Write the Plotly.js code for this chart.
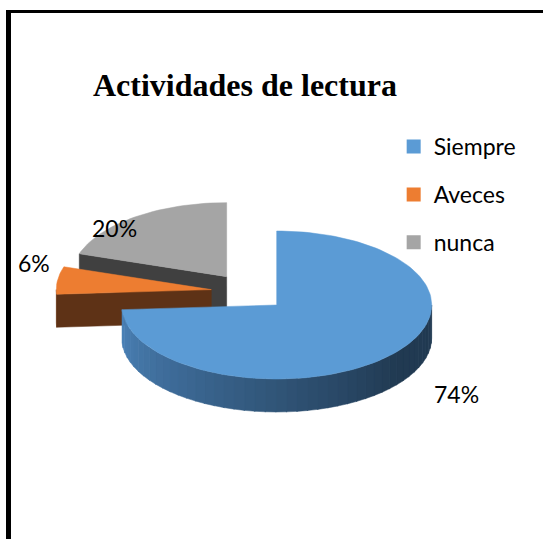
<!DOCTYPE html>
<html>
<head>
<meta charset="utf-8">
<script src="https://cdn.plot.ly/plotly-3.0.1.min.js"></script>
<style>html,body{margin:0;padding:0;background:#fff;}#chart{width:543px;height:539px;}</style>
</head>
<body>
<div id="chart"></div>
<script>
// ---- data ----
var categories = ["Siempre", "Aveces", "nunca"];
var values = [74, 6, 20];
var topColors = ["#5B9BD5", "#ED7D31", "#A5A5A5"];
var faceColors = ["#2E5075", "#5E3216", "#404040"];
var wallLight = ["#4C84BB", "#6A3A1A", "#505050"];
var wallDark = ["#213A52", "#4A2810", "#383838"];

// ---- geometry (drawing constants) ----
var CX = 249, CY = 292, RX = 155, RY = 74, DEPTH = 33, EXPLODE = 38, KY = 0.5;
var TITLE = "Actividades de lectura";

function pt(cx, cy, ang) {
  var r = ang * Math.PI / 180;
  return [cx + RX * Math.sin(r), cy - RY * Math.cos(r)];
}
function arc(cx, cy, a0, a1, dy) {
  var pts = [];
  var n = Math.max(2, Math.ceil(Math.abs(a1 - a0) / 2));
  for (var i = 0; i <= n; i++) {
    var a = a0 + (a1 - a0) * i / n;
    var p = pt(cx, cy, a);
    pts.push([p[0], p[1] + (dy || 0)]);
  }
  return pts;
}
function hex2rgb(h) { return [parseInt(h.substr(1,2),16), parseInt(h.substr(3,2),16), parseInt(h.substr(5,2),16)]; }
function mix(c1, c2, t) {
  var a = hex2rgb(c1), b = hex2rgb(c2);
  return "rgb(" + [0,1,2].map(function(i){ return Math.round(a[i] + (b[i]-a[i]) * t); }).join(",") + ")";
}
function poly(pts, color) {
  var xs = pts.map(function(p){return p[0];}), ys = pts.map(function(p){return p[1];});
  xs.push(xs[0]); ys.push(ys[0]);
  return {type: "scatter", mode: "lines", x: xs, y: ys, fill: "toself", fillcolor: color,
          line: {width: 0.5, color: color}, hoverinfo: "skip", showlegend: false};
}

var total = values.reduce(function(a,b){return a+b;}, 0);
var slices = [];
var start = 0;
for (var i = 0; i < values.length; i++) {
  var span = values[i] / total * 360;
  var a0 = start, a1 = start + span, mid = (a0 + a1) / 2;
  var mr = mid * Math.PI / 180;
  var cx = CX + EXPLODE * Math.sin(mr), cy = CY - EXPLODE * KY * Math.cos(mr);
  slices.push({i: i, a0: a0, a1: a1, cx: cx, cy: cy, mid: mid});
  start = a1;
}

// painter order: back slices first
var order = slices.slice().sort(function(a, b){ return a.cy - b.cy; });
var traces = [];
order.forEach(function(s) {
  var i = s.i;
  var nStart = [-Math.cos(s.a0*Math.PI/180), Math.sin(s.a0*Math.PI/180)];
  if (nStart[1] < -0.01) {
    var e = pt(s.cx, s.cy, s.a0);
    traces.push(poly([[s.cx, s.cy], e, [e[0], e[1] + DEPTH], [s.cx, s.cy + DEPTH]], faceColors[i]));
  }
  var nEnd = [Math.cos(s.a1*Math.PI/180), -Math.sin(s.a1*Math.PI/180)];
  if (nEnd[1] < -0.01) {
    var e2 = pt(s.cx, s.cy, s.a1);
    traces.push(poly([[s.cx, s.cy], e2, [e2[0], e2[1] + DEPTH], [s.cx, s.cy + DEPTH]], faceColors[i]));
  }
  var w0 = Math.max(s.a0, 90), w1 = Math.min(s.a1, 270);
  if (w1 > w0) {
    var segs = Math.max(1, Math.ceil((w1 - w0) / 4));
    for (var k = 0; k < segs; k++) {
      var b0 = w0 + (w1 - w0) * k / segs, b1 = w0 + (w1 - w0) * (k + 1) / segs + 0.3;
      if (b1 > w1) b1 = w1;
      var bm = (b0 + b1) / 2;
      var t = Math.max(0, Math.min(1, (270 - bm) / 140));
      var col = mix(wallLight[i], wallDark[i], t);
      var topA = arc(s.cx, s.cy, b0, b1, 0);
      var botA = arc(s.cx, s.cy, b1, b0, DEPTH);
      traces.push(poly(topA.concat(botA), col));
    }
  }
  var top = [[s.cx, s.cy]].concat(arc(s.cx, s.cy, s.a0, s.a1, 0));
  traces.push(poly(top, topColors[i]));
});

// legend entries
categories.forEach(function(c, i) {
  traces.push({type: "scatter", mode: "markers", x: [null], y: [null], name: c,
    legendgroup: c, marker: {symbol: "square", size: 14, color: topColors[i]}, showlegend: true, hoverinfo: "skip"});
});

// percentage labels
var labelPos = [[456, 394], [34, 263], [114, 228]];
var annotations = values.map(function(v, i) {
  return {x: labelPos[i][0], y: labelPos[i][1], xref: "x", yref: "y", text: Math.round(v / total * 100) + "%",
    showarrow: false, font: {family: "Lato, sans-serif", size: 23, color: "#000"}, xanchor: "center", yanchor: "middle"};
});
annotations.push({x: 245, y: 85, xref: "x", yref: "y", text: "<b>" + TITLE + "</b>", showarrow: false,
  font: {family: "Liberation Serif, Times New Roman, serif", size: 32, color: "#000"}, xanchor: "center", yanchor: "middle"});

var layout = {
  width: 543, height: 539,
  margin: {l: 0, r: 0, t: 0, b: 0},
  paper_bgcolor: "#fff", plot_bgcolor: "#fff",
  xaxis: {range: [0, 543], visible: false, fixedrange: true},
  yaxis: {range: [539, 0], visible: false, fixedrange: true},
  showlegend: true,
  legend: {x: 0.725, y: 0.768, xanchor: "left", yanchor: "top", tracegroupgap: 15,
           font: {family: "Lato, sans-serif", size: 23, color: "#000"}, bgcolor: "rgba(0,0,0,0)"},
  annotations: annotations,
  shapes: [
    {type: "line", xref: "paper", yref: "paper", x0: 8.5/543, x1: 8.5/543, y0: 0, y1: 1 - 10/539, line: {color: "#000", width: 5}},
    {type: "line", xref: "paper", yref: "paper", x0: 6/543, x1: 1, y0: 1 - 11.5/539, y1: 1 - 11.5/539, line: {color: "#000", width: 3}}
  ]
};

Plotly.newPlot("chart", traces, layout, {displayModeBar: false, staticPlot: true});
</script>
</body>
</html>
